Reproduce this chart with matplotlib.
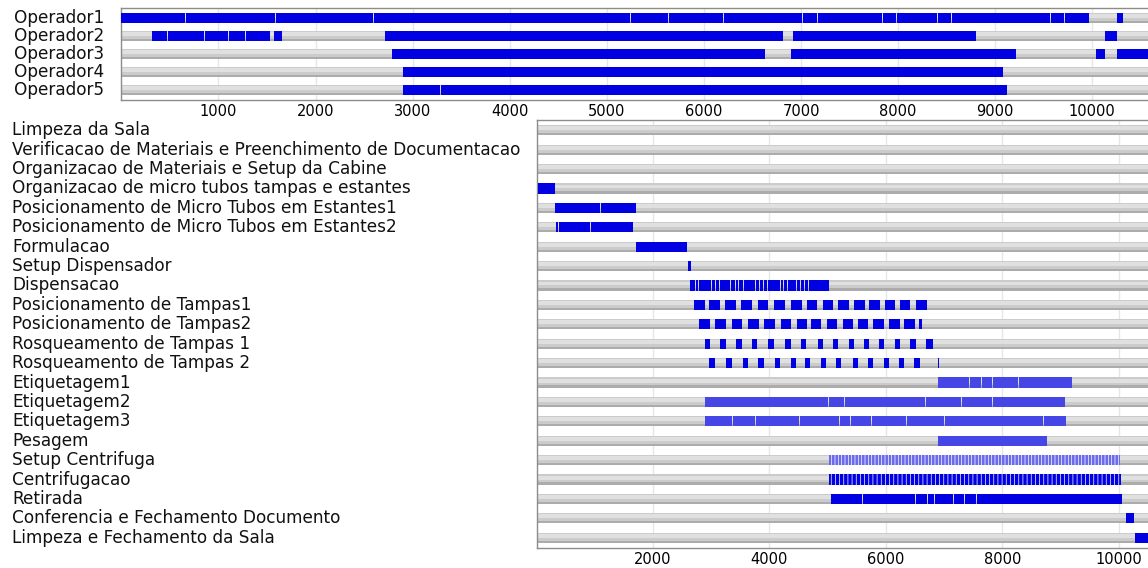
import numpy as np
import matplotlib.pyplot as plt
from matplotlib.transforms import blended_transform_factory

plt.rcParams['font.family'] = ['DejaVu Sans']
plt.rcParams['hatch.linewidth'] = 0.5

'''Dados lidos do grafico (tempo em segundos)'''
operadores = ["Operador1", "Operador2", "Operador3", "Operador4", "Operador5"]
# cada bloco = [inicio, divisoes..., fim]
op_blocos = [
    [[0, 656, 1583, 2595, 5239, 5630, 6196, 7010, 7164, 7839, 7978, 8401, 8545, 9564, 9709, 9970],
     [10255, 10317]],
    [[317, 471, 851, 1104, 1274, 1531], [1570, 1660], [2712, 6815], [6914, 8798], [10131, 10255]],
    [[2788, 6634], [6897, 9214], [10038, 10127], [10255, 11000]],
    [[2897, 9080]],
    [[2897, 3282, 9119]],
]

tarefas = [
    "Limpeza da Sala",
    "Verificacao de Materiais e Preenchimento de Documentacao",
    "Organizacao de Materiais e Setup da Cabine",
    "Organizacao de micro tubos tampas e estantes",
    "Posicionamento de Micro Tubos em Estantes1",
    "Posicionamento de Micro Tubos em Estantes2",
    "Formulacao",
    "Setup Dispensador",
    "Dispensacao",
    "Posicionamento de Tampas1",
    "Posicionamento de Tampas2",
    "Rosqueamento de Tampas 1",
    "Rosqueamento de Tampas 2",
    "Etiquetagem1",
    "Etiquetagem2",
    "Etiquetagem3",
    "Pesagem",
    "Setup Centrifuga",
    "Centrifugacao",
    "Retirada",
    "Conferencia e Fechamento Documento",
    "Limpeza e Fechamento da Sala",
]

tampas1 = [[2710, 2893], [2967, 3151], [3242, 3426], [3512, 3696], [3799, 3981], [4084, 4268],
           [4371, 4555], [4641, 4823], [4916, 5098], [5184, 5368], [5454, 5637], [5716, 5900],
           [5981, 6163], [6239, 6421], [6514, 6703]]
tampas2 = [[2790, 2974], [3065, 3249], [3352, 3534], [3627, 3816], [3912, 4096], [4194, 4376],
           [4469, 4651], [4710, 4892], [4985, 5167], [5259, 5442], [5517, 5699], [5785, 5969],
           [6055, 6239], [6313, 6497], [6570, 6617]]
rosca1 = [[2893, 2979], [3151, 3249], [3426, 3524], [3706, 3792], [3981, 4079], [4268, 4366],
          [4548, 4629], [4830, 4916], [5088, 5184], [5373, 5454], [5625, 5716], [5883, 5969],
          [6153, 6244], [6416, 6514], [6691, 6806]]
rosca2 = [[2967, 3070], [3249, 3352], [3552, 3637], [3809, 3907], [4096, 4182], [4371, 4457],
          [4612, 4698], [4881, 4973], [5144, 5230], [5431, 5517], [5699, 5785], [5969, 6060],
          [6232, 6318], [6490, 6588], [6897, 6914]]
dispensacao = [[2636, 2722, 2779, 2854, 2923, 2997, 3065, 3140, 3323, 3409, 3466, 3552, 3610,
                3679, 3753, 3821, 3895, 3964, 4040, 4125, 4182, 4239, 4308, 4383, 4457, 4526,
                4595, 4668, 4985, 5024]]

tarefa_blocos = [
    [[0, 15]],
    [[0, 15]],
    [[0, 15]],
    [[20, 315]],
    [[315, 362, 1096, 1707]],
    [[335, 370, 919, 1660]],
    [[1707, 2590]],
    [[2600, 2645]],
    dispensacao,
    tampas1,
    tampas2,
    rosca1,
    rosca2,
    [[6892, 7435, 7636, 7825, 8277, 8868, 9199]],
    [[2893, 4641, 5012, 5225, 5287, 5947, 6015, 6674, 7292, 7830, 8490, 8610, 9084]],
    [[2893, 3283, 3357, 3753, 4514, 4710, 4898, 5201, 5385, 5746, 6347, 7005, 7218, 8706, 9022, 9095]],
    [[6892, 8770]],
    [[5024, 10019]],
    [[5031, 10041]],
    [[5058, 5591, 5706, 6502, 6713, 6828, 7115, 7160, 7344, 7550, 7751, 8232, 8318, 8920, 10058]],
    [[10130, 10260]],
    [[10282, 11000]],
]

ticks_topo = [1000, 2000, 3000, 4000, 5000, 6000, 7000, 8000, 9000, 10000]
ticks_base = [2000, 4000, 6000, 8000, 10000]
XMAX = 11000

'''Estilos'''
AZUL = '#0000e2'
AZUL_CLARO = '#4646e6'
claras = {"Etiquetagem1", "Etiquetagem2", "Etiquetagem3", "Pesagem"}
listradas = {"Setup Centrifuga": ('#6a6aea', '|||||'), "Centrifugacao": (AZUL, '||||')}
GAP = 10


def fundo(ax, y, h):
    # barra cinza com leve degrade
    ax.broken_barh([(0, XMAX)], (y - h/2, h), facecolors='#cbcbcb', zorder=2)
    ax.broken_barh([(0, XMAX)], (y - h/2 + 0.12*h, 0.38*h), facecolors='#e0e0e0', zorder=2)
    ax.broken_barh([(0, XMAX)], (y + h/2 - 0.22*h, 0.22*h), facecolors='#acacac', zorder=2)


def desenha(ax, nomes, blocos, h):
    for i, (nome, bl) in enumerate(zip(nomes, blocos)):
        fundo(ax, i, h)
        cor, hatch = AZUL, None
        if nome in claras:
            cor = AZUL_CLARO
        if nome in listradas:
            cor, hatch = listradas[nome]
        for b in bl:
            segs = []
            for k in range(len(b) - 1):
                a = b[k] + (GAP if k > 0 else 0)
                segs.append((a, b[k+1] - a))
            ax.broken_barh(segs, (i - h/2, h), facecolors=cor, edgecolor='white',
                           linewidth=0, hatch=hatch, zorder=3)


def estilo_eixo(ax, ticks, n, margem):
    ax.set_xlim(0, XMAX)
    ax.set_ylim(n - 1 + margem, -margem)
    ax.set_xticks(ticks)
    ax.set_xticklabels([str(t) for t in ticks], fontsize=10.5)
    ax.set_yticks([])
    ax.tick_params(axis='x', length=0, pad=3)
    ax.grid(axis='x', color='#e6e6e6', linewidth=1, zorder=0)
    ax.set_axisbelow(True)
    for s in ax.spines.values():
        s.set_color('#8c8c8c')
        s.set_linewidth(1)


fig = plt.figure(figsize=(11.48, 5.68), dpi=100)
W, H = 1148.0, 568.0

ax1 = fig.add_axes([121.3/W, 1 - 100/H, XMAX*0.0971/W, 92/H])
desenha(ax1, operadores, op_blocos, 0.56)
estilo_eixo(ax1, ticks_topo, len(operadores), 0.555)
tr1 = blended_transform_factory(fig.transFigure, ax1.transData)
for i, nome in enumerate(operadores):
    ax1.text(14/W, i, nome, transform=tr1, ha='left', va='center', fontsize=12.2, color='#111111')

ax2 = fig.add_axes([536.6/W, 1 - 548/H, XMAX*0.0582/W, 428/H])
desenha(ax2, tarefas, tarefa_blocos, 0.52)
estilo_eixo(ax2, ticks_base, len(tarefas), 0.53)
tr2 = blended_transform_factory(fig.transFigure, ax2.transData)
for i, nome in enumerate(tarefas):
    ax2.text(12/W, i, nome, transform=tr2, ha='left', va='center', fontsize=12.2, color='#111111')

plt.savefig('out.png', dpi=100)
